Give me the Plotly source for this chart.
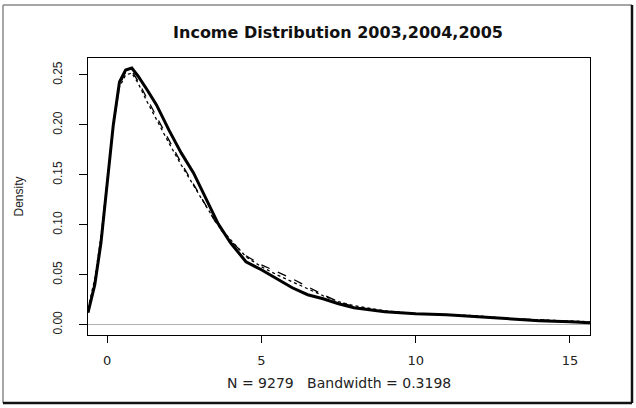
import plotly.graph_objects as go

# Income grid (x) shared by the three density estimates
income = [-0.62, -0.4, -0.2, 0.0, 0.2, 0.4, 0.6, 0.8, 1.0, 1.3, 1.6, 2.0, 2.4, 2.8,
          3.2, 3.6, 4.0, 4.5, 5.0, 5.5, 6.0, 6.5, 7.0, 7.5, 8.0, 9.0, 10.0, 11.0,
          12.0, 13.0, 14.0, 15.0, 15.65]

density_2003 = [0.012, 0.040, 0.082, 0.140, 0.200, 0.243, 0.255, 0.257, 0.249, 0.235,
                0.220, 0.195, 0.172, 0.152, 0.127, 0.101, 0.082, 0.063, 0.055, 0.046,
                0.037, 0.030, 0.026, 0.021, 0.017, 0.013, 0.011, 0.010, 0.008, 0.006,
                0.004, 0.003, 0.002]

density_2004 = [0.013, 0.042, 0.085, 0.142, 0.199, 0.240, 0.253, 0.254, 0.244, 0.226,
                0.208, 0.185, 0.162, 0.141, 0.120, 0.098, 0.084, 0.069, 0.060, 0.053,
                0.046, 0.038, 0.030, 0.023, 0.018, 0.013, 0.011, 0.010, 0.008, 0.006,
                0.005, 0.003, 0.002]

density_2005 = [0.016, 0.046, 0.088, 0.145, 0.200, 0.238, 0.250, 0.252, 0.242, 0.223,
                0.205, 0.182, 0.160, 0.139, 0.119, 0.099, 0.085, 0.068, 0.058, 0.050,
                0.043, 0.036, 0.029, 0.023, 0.019, 0.014, 0.011, 0.010, 0.009, 0.006,
                0.005, 0.004, 0.003]

x_ticks = [0, 5, 10, 15]
y_ticks = [0.00, 0.05, 0.10, 0.15, 0.20, 0.25]
y_tick_text = ["0.00", "0.05", "0.10", "0.15", "0.20", "0.25"]

title_text = "Income Distribution 2003,2004,2005"
x_label = "N = 9279   Bandwidth = 0.3198"
y_label = "Density"

fig = go.Figure()
fig.add_trace(go.Scatter(x=income, y=density_2005, mode="lines", name="2005",
                         line=dict(color="black", width=1.3, dash="dot")))
fig.add_trace(go.Scatter(x=income, y=density_2004, mode="lines", name="2004",
                         line=dict(color="black", width=1.3, dash="dash")))
fig.add_trace(go.Scatter(x=income, y=density_2003, mode="lines", name="2003",
                         line=dict(color="black", width=3)))

txt = "#222222"
fig.update_layout(
    width=636, height=408,
    margin=dict(l=88, r=46, t=58, b=73),
    paper_bgcolor="white", plot_bgcolor="white",
    showlegend=False,
    font=dict(family="DejaVu Sans, sans-serif", size=13, color=txt),
    title=dict(text=title_text, x=(338) / 636, xanchor="center", y=1 - 32 / 408,
               yanchor="middle",
               font=dict(family="DejaVu Sans, sans-serif", size=16, color="#111111",
                         weight="bold")),
    xaxis=dict(range=[-0.62, 15.65], tickvals=x_ticks, ticks="outside", ticklen=7,
               tickcolor="black", showline=True, linecolor="black", linewidth=1,
               mirror=True, showgrid=False, zeroline=False, ticklabelstandoff=6,
               tickfont=dict(size=13, color=txt)),
    yaxis=dict(range=[-0.0103, 0.267], tickvals=y_ticks, ticktext=y_tick_text,
               ticks="outside", ticklen=8, tickcolor="black", showline=True,
               linecolor="black", linewidth=1, mirror=True, showgrid=False,
               zeroline=True, zerolinecolor="#b0b0b0", zerolinewidth=1,
               tickangle=-90, ticklabelstandoff=12,
               tickfont=dict(family="Liberation Sans, Arial, sans-serif", size=12,
                             color=txt)),
    annotations=[
        dict(text=x_label, xref="paper", yref="paper", x=0.5, y=(335 - 383) / 277,
             xanchor="center", yanchor="middle", showarrow=False,
             font=dict(size=14, color=txt)),
        dict(text=y_label, xref="paper", yref="paper", x=(18 - 88) / 502, y=0.5,
             xanchor="center", yanchor="middle", showarrow=False, textangle=-90,
             font=dict(family="Liberation Sans, Arial, sans-serif", size=12, color=txt)),
    ],
)

# outer frame (gray top/left, dark bottom/right)
def px_x(p):
    return (p - 88) / 502

def px_y(p):
    return (335 - p) / 277

frame = [
    (3, 5, 632, 5, "#888888", 1.5),
    (3, 5, 3, 403, "#888888", 1.5),
    (3, 403, 632, 403, "#111111", 2.5),
    (632, 5, 632, 403, "#111111", 2.5),
]
for x0, y0, x1, y1, c, w in frame:
    fig.add_shape(type="line", xref="paper", yref="paper",
                  x0=px_x(x0), y0=px_y(y0), x1=px_x(x1), y1=px_y(y1),
                  line=dict(color=c, width=w))

fig.write_html("out.html")
